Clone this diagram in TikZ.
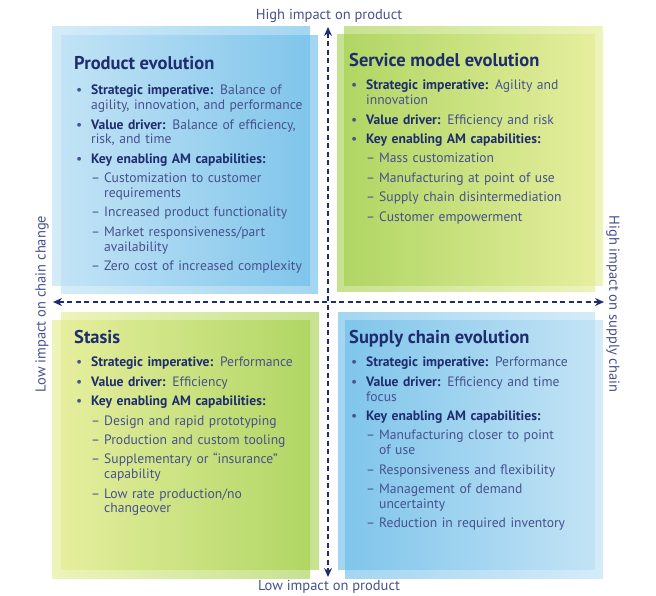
\documentclass[tikz,border=0pt]{standalone}
\usepackage{fontspec}
\setmainfont{PT Sans}
\usetikzlibrary{arrows.meta,positioning}
\definecolor{navy}{HTML}{1F2D6E}
\definecolor{softnavy}{HTML}{47518C}
\definecolor{bluelo}{HTML}{B8DFF4}
\definecolor{bluehi}{HTML}{66BAE7}
\definecolor{greenlo}{HTML}{E2EC8C}
\definecolor{greenhi}{HTML}{A0CE45}
\newcommand\keyitem[2]{{\leftskip=17pt\noindent\llap{\textbullet\hspace{9pt}}\textbf{\color{navy}#1} #2\par}}
\newcommand\capitem[1]{{\leftskip=30pt\noindent\llap{–\hspace{4pt}}#1\par}}
\begin{document}
\begin{tikzpicture}[x=1pt, y=-1pt,
    panel/.style={fill opacity=0.6, draw=none},
    heading/.style={anchor=base west, inner sep=0, font=\fontsize{18.5}{22}\selectfont\bfseries, text=navy},
    body/.style={anchor=north west, inner sep=0, text width=250pt, align=left, text=softnavy,
      font=\fontsize{13.6}{14.8}\selectfont\setlength{\parskip}{4.6pt}},
    axislabel/.style={inner sep=0, text=softnavy, font=\fontsize{14.5}{16}\selectfont},
    axis/.style={draw=navy, line width=1.3pt, dash pattern=on 5pt off 3.5pt, {Stealth[length=9pt,width=8pt]}-{Stealth[length=9pt,width=8pt]}}]
    \useasboundingbox (0,0) rectangle (656,595);
    % Quadrant panels
    \shade[panel, left color=bluelo, right color=bluehi] (52,26) rectangle (310,285);
    \shade[panel, left color=bluelo, right color=bluehi] (61,35) rectangle (318,293);
    \shade[panel, left color=greenhi, right color=greenlo] (344,26) rectangle (603,285);
    \shade[panel, left color=greenhi, right color=greenlo] (337,34) rectangle (595,291);
    \shade[panel, left color=greenlo, right color=greenhi] (52,320) rectangle (310,578);
    \shade[panel, left color=greenlo, right color=greenhi] (61,312) rectangle (319,569);
    \shade[panel, left color=bluehi, right color=bluelo] (345,320) rectangle (603,578);
    \shade[panel, left color=bluehi, right color=bluelo] (338,312) rectangle (595,569);
    % Axes
    \coordinate (top) at (328,27);
    \coordinate (bottom) at (328,577);
    \coordinate (left) at (53,302);
    \coordinate (right) at (604,302);
    \draw[axis] (top) -- (bottom);
    \draw[axis] (left) -- (right);
    \node (hiprod) at (329,16) [axislabel] {High impact on product};
    \node (loprod) at (329,586.5) [axislabel] {Low impact on product};
    \node (lochain) at (42,304) [axislabel, rotate=90] {Low impact on chain change};
    \node (hisupply) at (613,304) [axislabel, rotate=-90] {High impact on supply chain};
    % Product evolution
    \node (prodtitle) at (74,69) [heading] {Product evolution};
    \node (prodbody) at (74,85) [body] {%
      \keyitem{Strategic imperative:}{Balance of\\agility, innovation, and performance}
      \keyitem{Value driver:}{Balance of efficiency,\\risk, and time}
      \keyitem{Key enabling AM capabilities:}{}
      \capitem{Customization to customer\\requirements}
      \capitem{Increased product functionality}
      \capitem{Market responsiveness/part\\availability}
      \capitem{Zero cost of increased complexity}};
    % Service model evolution
    \node (servtitle) at (349,66) [heading] {Service model evolution};
    \node (servbody) at (349,80) [body] {%
      \keyitem{Strategic imperative:}{Agility and\\innovation}
      \keyitem{Value driver:}{Efficiency and risk}
      \keyitem{Key enabling AM capabilities:}{}
      \capitem{Mass customization}
      \capitem{Manufacturing at point of use}
      \capitem{Supply chain disintermediation}
      \capitem{Customer empowerment}};
    % Stasis
    \node (stasistitle) at (74,343) [heading] {Stasis};
    \node (stasisbody) at (74,357) [body] {%
      \keyitem{Strategic imperative:}{Performance}
      \keyitem{Value driver:}{Efficiency}
      \keyitem{Key enabling AM capabilities:}{}
      \capitem{Design and rapid prototyping}
      \capitem{Production and custom tooling}
      \capitem{Supplementary or “insurance”\\capability}
      \capitem{Low rate production/no\\changeover}};
    % Supply chain evolution
    \node (supplytitle) at (349,343) [heading] {Supply chain evolution};
    \node (supplybody) at (349,357) [body] {%
      \keyitem{Strategic imperative:}{Performance}
      \keyitem{Value driver:}{Efficiency and time\\focus}
      \keyitem{Key enabling AM capabilities:}{}
      \capitem{Manufacturing closer to point\\of use}
      \capitem{Responsiveness and flexibility}
      \capitem{Management of demand\\uncertainty}
      \capitem{Reduction in required inventory}};
\end{tikzpicture}
\end{document}
